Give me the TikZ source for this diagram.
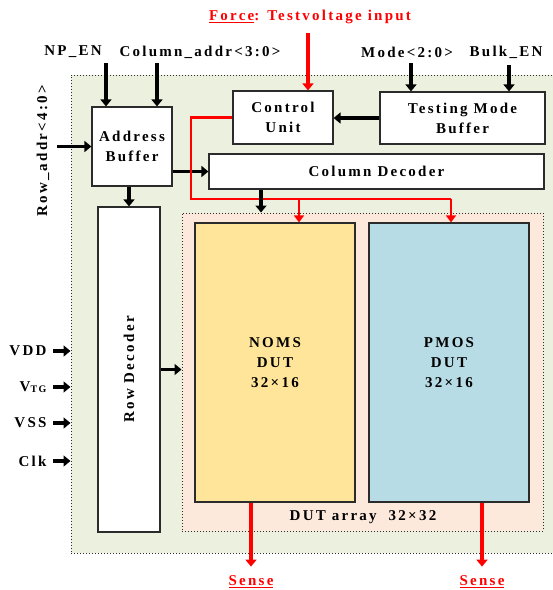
\documentclass[tikz,border=0pt]{standalone}
\usepackage{fontspec}
\setmainfont{Liberation Serif}[LetterSpace=15]
\usepackage{xcolor}
\usepackage{tikz}
\usetikzlibrary{arrows.meta,positioning}
\definecolor{ChipGreen}{HTML}{EBF1DE}
\definecolor{ArrayPeach}{HTML}{FDE9DC}
\definecolor{NmosYellow}{HTML}{FFE599}
\definecolor{PmosBlue}{HTML}{B7DCE6}
\definecolor{BoxLine}{HTML}{2B2B2B}
\definecolor{ForceRed}{HTML}{FF0000}

\begin{document}
\begin{tikzpicture}[
  x=1pt,y=-1pt,
  font=\bfseries\fontsize{15}{20}\selectfont,
  block/.style={draw=BoxLine,line width=1.2pt,fill=white,align=center,inner sep=0pt},
  region/.style={draw=BoxLine,dotted,line width=1pt,inner sep=0pt},
  sig/.style={draw=black,line width=3.5pt,-{Triangle[width=11pt,length=7pt]}},
  ctl/.style={draw=ForceRed,line width=2.2pt},
  ctlarr/.style={ctl,-{Triangle[width=10pt,length=7pt]}},
  force/.style={draw=ForceRed,line width=3.2pt,-{Triangle[width=11pt,length=7pt]}},
  redlabel/.style={text=ForceRed}
]
\useasboundingbox (0,0) rectangle (553,590);
% chip and array regions
\node[region,fill=ChipGreen,minimum width=489pt,minimum height=478pt] (chip) at (315.5,314) {};
\node[region,fill=ArrayPeach,minimum width=361pt,minimum height=318pt] (dutarr) at (362.5,372) {};
\node (dutlbl) at (363,517) {DUT array\ \ 32×32};
% blocks
\node[block,minimum width=80pt,minimum height=79pt] (addr) at (132,146.5) {Address\\Buffer};
\node[block,minimum width=100pt,minimum height=53pt] (ctrl) at (283,117.5) {Control\\Unit};
\node[block,minimum width=165pt,minimum height=52pt] (tmb) at (462.5,118) {Testing Mode\\Buffer};
\node[block,minimum width=335pt,minimum height=35pt] (coldec) at (376.5,171.5) {Column Decoder};
\node[block,minimum width=62pt,minimum height=325pt] (rowdec) at (129,369.5) {};
\node[rotate=90] at (rowdec.center) {Row Decoder};
\node[block,fill=NmosYellow,minimum width=160pt,minimum height=279pt] (nmos) at (275,362.5) {NOMS\\DUT\\32×16};
\node[block,fill=PmosBlue,minimum width=160pt,minimum height=279pt] (pmos) at (449,362.5) {PMOS\\DUT\\32×16};
% external labels
\node (npen) at (73,52) {NP\_EN};
\node (coladdr) at (200,52) {Column\_addr<3:0>};
\node (mode) at (407,52) {Mode<2:0>};
\node (bulken) at (506,52) {Bulk\_EN};
\node[rotate=90] (rowaddr) at (43,151) {Row\_addr<4:0>};
\node[redlabel] (forcelbl) at (310,17) {\underline{Force}: Testvoltage input};
\node[redlabel] (nsense) at (251,582) {\underline{Sense}};
\node[redlabel] (psense) at (482,582) {\underline{Sense}};
\coordinate (npenin) at (106,63);
\coordinate (colin) at (157,63);
\coordinate (modein) at (411,63);
\coordinate (bulkin) at (509,65);
\coordinate (rowin) at (57,146.5);
\coordinate (forcein) at (308,33);
% inputs
\draw[sig] (npenin) -- (npenin |- addr.north);
\draw[sig] (colin) -- (colin |- addr.north);
\draw[sig] (modein) -- (modein |- tmb.north);
\draw[sig] (bulkin) -- (bulkin |- tmb.north);
\draw[sig] (rowin) -- (addr.west);
\draw[force] (forcein) -- (forcein |- ctrl.north);
\foreach \nm/\lab/\yy in {vdd/VDD/351,vtg/{V\raisebox{-1pt}{\fontsize{10}{10}\selectfont TG}}/387,vss/VSS/423,clk/Clk/461}{
  \node[anchor=east] (\nm) at (50,\yy) {\lab};
  \draw[sig] ([xshift=3pt]\nm.east) -- (\nm -| chip.west);
}
% internal connections
\draw[sig] (tmb.west) -- (tmb.west -| ctrl.east);
\draw[sig] (addr.east |- coldec.west) -- (coldec.west);
\draw[sig] (rowdec.north |- addr.south) -- (rowdec.north);
\draw[sig] (rowdec.east) -- (rowdec.east -| dutarr.west);
% control bus
\coordinate (bend) at (191,199);
\coordinate (ntap) at (299,199);
\coordinate (ptap) at (451,199);
\draw[ctl] (ctrl.west) -| (bend) -- (ptap);
\draw[ctlarr] (ntap) -- (ntap |- nmos.north);
\draw[ctlarr] (ptap) -- (ptap |- pmos.north);
\draw[sig] (261,0 |- coldec.south) -- (261,0 |- dutarr.north);
% sense outputs
\draw[force] (nsense |- nmos.south) -- ++(0,64);
\draw[force] (psense |- pmos.south) -- ++(0,64);
\end{tikzpicture}
\end{document}
